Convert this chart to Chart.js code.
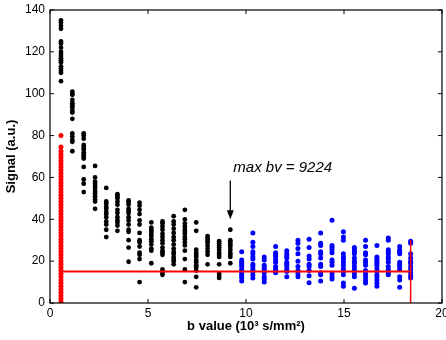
<!DOCTYPE html>
<html lang="en">
<head>
  <meta charset="UTF-8" />
  <title>Signal vs b value</title>
  <script src="https://cdn.jsdelivr.net/npm/chart.js"></script>
  <style>
    html, body {
      margin: 0;
      padding: 0;
      background: #ffffff;
    }
    .chart-container {
      width: 446px;
      height: 340px;
    }
  </style>
</head>
<body>
  <div class="chart-container">
    <canvas id="mainChart"></canvas>
  </div>

  <script>
    // b values (10^3 s/mm^2) of the measured columns
    const blackB = [0.56, 1.14, 1.72, 2.30, 2.87, 3.44, 4.01, 4.57, 5.17, 5.74, 6.31, 6.88, 7.46, 8.04, 8.63, 9.20];
    const blueB = [9.78, 10.35, 10.93, 11.51, 12.08, 12.65, 13.22, 13.81, 14.39, 14.97, 15.53, 16.10, 16.68, 17.26, 17.84, 18.40];

    // signal values per column (a.u.)
    const blackSignal = [
      [135, 134, 132.5, 131, 125, 124, 122, 120, 119, 118, 117, 116, 115, 113, 112, 111, 110, 106],
      [101, 100, 99.5, 97, 95.5, 94.5, 93.5, 92, 91, 88, 81, 79.5, 78, 77, 72.5],
      [81, 80, 78.5, 75.5, 74.5, 73.5, 72, 71, 70, 69, 65, 59, 57, 53],
      [65.5, 60, 58, 57, 56, 55, 53.5, 52.5, 51, 49.5, 48.5, 45],
      [55, 48.5, 47.5, 46, 45, 43.5, 42.5, 41, 39, 37.5, 35, 31.5],
      [52, 51, 50, 48.5, 47, 44.5, 43, 41, 39.5, 38.5, 37, 34.5],
      [49, 48, 47, 45, 44, 43, 41, 39.5, 37.5, 35, 34, 30, 26.5, 19.7],
      [48, 46.5, 44.5, 42.5, 39.5, 37.5, 33.5, 30, 29, 27, 24, 23, 21, 10],
      [38.5, 36, 35, 34, 33, 32, 30.5, 29.5, 28, 26, 25, 19],
      [39, 38, 36.5, 35, 33, 31.5, 30, 28.5, 26.5, 25, 24, 23, 16, 14.5, 13.5],
      [41.5, 39, 37.5, 35.5, 33.5, 31.5, 30, 28, 26, 24.5, 23.5, 22, 21, 20, 18.5],
      [44.5, 40, 38, 36.5, 35, 34, 33, 31.5, 30.5, 29, 27.5, 25, 21, 16, 10],
      [38.5, 34.5, 25.5, 24, 23, 22, 20.5, 19.5, 18, 17, 15.5, 12.5, 7.5],
      [32, 31, 30, 29, 27.5, 26, 24.5, 23, 18.5],
      [29.5, 28.5, 27.5, 26.5, 25.5, 24, 23, 22, 18.5, 14, 13, 12],
      [35, 30, 29, 28, 27, 25.5, 24, 23, 22, 19]
    ];

    const blueSignal = [
      [24.5, 20.5, 19.5, 18.5, 17.5, 16, 15, 14, 13, 12, 10.5],
      [33.5, 29, 27, 24.5, 23.5, 22, 21, 18.5, 17.5, 16, 15, 13.5, 12],
      [22, 20.5, 18, 17, 16, 14.5, 12.5, 11.5, 10],
      [27, 24, 23, 22, 20.5, 19.5, 17.5, 16.5, 15.5, 14.5],
      [25, 23.5, 22.5, 21.5, 19.5, 18.5, 17.5, 16, 15, 12.5],
      [30, 28.5, 26, 23.5, 20, 17.5, 15.5, 14, 12.5],
      [30.5, 26.5, 22.5, 21, 18.5, 17.5, 15.5, 13, 9.7],
      [33.5, 28.5, 27.5, 24.5, 23.5, 21.5, 18.5, 17.5, 14.5, 13.5, 10.5],
      [39.5, 27.5, 26.5, 25.5, 24, 20.5, 19.5, 18, 14, 12.5, 11.5],
      [34, 31.5, 30, 23.5, 22, 21, 19.5, 18, 16.5, 15, 13.5, 9.5, 8],
      [26.5, 25.5, 24.5, 23.5, 21.5, 20, 19, 17.5, 16, 14, 12.5, 7],
      [30, 27, 24, 23, 20.5, 19.5, 18, 15.5, 14, 12.5, 11, 9.5],
      [27.5, 22, 21, 20, 19, 18, 16.5, 15, 13.5, 12.5, 11, 9.5, 8],
      [31, 30, 25.5, 24.5, 23.5, 22, 21, 19.5, 17.5, 16, 14.5, 13.5],
      [27, 25.5, 24.5, 23.5, 19.5, 18.5, 17.5, 16, 12.5, 11, 7.5],
      [29.5, 28.5, 23.5, 21.5, 20, 19, 17.5, 16, 14.5, 13, 12]
    ];

    // red (excluded) points at the lowest b value
    const redB = 0.56;
    const redSignal = [80, 74.5, 72.5, 71, 69.5, 68, 66.5, 65, 63.5, 62, 60.5, 59, 57.5, 56, 54.5, 53, 51.5, 50,
      48.5, 47, 45.5, 44, 42.5, 41, 39.5, 38, 36.5, 35, 33.5, 32, 30.5, 29, 27.5, 26, 24.5, 23, 21.5, 20,
      18.5, 17, 15.5, 14, 12.5, 11, 9.5, 8, 6.5, 5, 3.5, 2, 0.5];

    // red fit line and cut-off
    const fitLevel = 15;
    const fitStartB = 0.56;
    const maxB = 18.4;
    const cutTop = 30;

    // annotation
    const noteText = "max bv = 9224";
    const noteB = 9.2;
    const arrowFrom = 58.5;
    const arrowTo = 40;

    const xTicks = [0, 5, 10, 15, 20];
    const yTicks = [0, 20, 40, 60, 80, 100, 120, 140];

    function toPoints(bs, signals) {
      const pts = [];
      bs.forEach((b, i) => {
        signals[i].forEach(s => pts.push({ x: b, y: s }));
      });
      return pts;
    }

    const blackPoints = toPoints(blackB, blackSignal);
    const bluePoints = toPoints(blueB, blueSignal);
    const redPoints = redSignal.map(s => ({ x: redB, y: s }));

    // box, inward ticks and the arrow annotation
    const framePlugin = {
      id: "frame",
      afterDatasetsDraw(chart) {
        const ctx = chart.ctx;
        const a = chart.chartArea;
        const xs = chart.scales.x;
        const ys = chart.scales.y;
        ctx.save();
        ctx.strokeStyle = "#000";
        ctx.lineWidth = 1.2;
        ctx.strokeRect(a.left, a.top, a.right - a.left, a.bottom - a.top);
        ctx.lineWidth = 1;
        ctx.beginPath();
        xTicks.forEach(t => {
          const px = xs.getPixelForValue(t);
          ctx.moveTo(px, a.bottom); ctx.lineTo(px, a.bottom - 4);
          ctx.moveTo(px, a.top); ctx.lineTo(px, a.top + 4);
        });
        yTicks.forEach(t => {
          const py = ys.getPixelForValue(t);
          ctx.moveTo(a.left, py); ctx.lineTo(a.left + 4, py);
          ctx.moveTo(a.right, py); ctx.lineTo(a.right - 4, py);
        });
        ctx.stroke();

        // arrow
        const ax = xs.getPixelForValue(noteB);
        const y0 = ys.getPixelForValue(arrowFrom);
        const y1 = ys.getPixelForValue(arrowTo);
        ctx.lineWidth = 1.3;
        ctx.beginPath();
        ctx.moveTo(ax, y0);
        ctx.lineTo(ax, y1 - 6);
        ctx.stroke();
        ctx.fillStyle = "#000";
        ctx.beginPath();
        ctx.moveTo(ax, y1);
        ctx.lineTo(ax - 3.5, y1 - 9);
        ctx.lineTo(ax + 3.5, y1 - 9);
        ctx.closePath();
        ctx.fill();

        ctx.font = "italic 15px 'Liberation Sans', Arial, sans-serif";
        ctx.textAlign = "left";
        ctx.textBaseline = "alphabetic";
        ctx.fillText(noteText, ax + 3, y0 - 9);
        ctx.restore();
      }
    };

    const tickFont = { family: "'Liberation Sans', Arial, sans-serif", size: 12 };
    const titleFont = { family: "'Liberation Sans', Arial, sans-serif", size: 13, weight: "bold" };

    new Chart(document.getElementById("mainChart"), {
      type: "scatter",
      data: {
        datasets: [
          {
            label: "fit",
            type: "line",
            data: [{ x: fitStartB, y: fitLevel }, { x: maxB, y: fitLevel }],
            borderColor: "#ff0000",
            borderWidth: 2,
            pointRadius: 0,
            fill: false,
            order: 0
          },
          {
            label: "cutoff",
            type: "line",
            data: [{ x: maxB, y: 0 }, { x: maxB, y: cutTop }],
            borderColor: "#ff0000",
            borderWidth: 1.5,
            pointRadius: 0,
            fill: false,
            order: 0
          },
          {
            label: "excluded",
            data: redPoints,
            backgroundColor: "#ff0000",
            borderWidth: 0,
            pointRadius: 2.5,
            order: 1
          },
          {
            label: "low b",
            data: blackPoints,
            backgroundColor: "#000000",
            borderWidth: 0,
            pointRadius: 2.4,
            order: 2
          },
          {
            label: "high b",
            data: bluePoints,
            backgroundColor: "#0000ff",
            borderWidth: 0,
            pointRadius: 2.5,
            order: 2
          }
        ]
      },
      options: {
        responsive: true,
        maintainAspectRatio: false,
        animation: false,
        layout: { padding: { left: 0, right: 4, top: 10, bottom: 0 } },
        plugins: {
          legend: { display: false },
          tooltip: { enabled: false }
        },
        scales: {
          x: {
            type: "linear",
            min: 0,
            max: 20,
            border: { display: false },
            grid: { display: false, drawTicks: false },
            ticks: { stepSize: 5, color: "#000", font: tickFont, padding: 3, maxRotation: 0 },
            title: {
              display: true,
              text: "b value (10³ s/mm²)",
              color: "#000",
              font: titleFont,
              padding: { top: 0, bottom: 6 }
            },
            afterFit: scale => {
              scale.height = 37;
              scale.paddingLeft = 0;
              scale.paddingRight = 0;
            }
          },
          y: {
            type: "linear",
            min: 0,
            max: 140,
            border: { display: false },
            grid: { display: false, drawTicks: false },
            ticks: { stepSize: 20, color: "#000", font: tickFont, padding: 5 },
            title: {
              display: true,
              text: "Signal (a.u.)",
              color: "#000",
              font: titleFont,
              padding: { top: 4, bottom: 0 }
            },
            afterFit: scale => {
              scale.width = 50;
              scale.paddingTop = 0;
              scale.paddingBottom = 0;
            }
          }
        }
      },
      plugins: [framePlugin]
    });
  </script>
</body>
</html>
